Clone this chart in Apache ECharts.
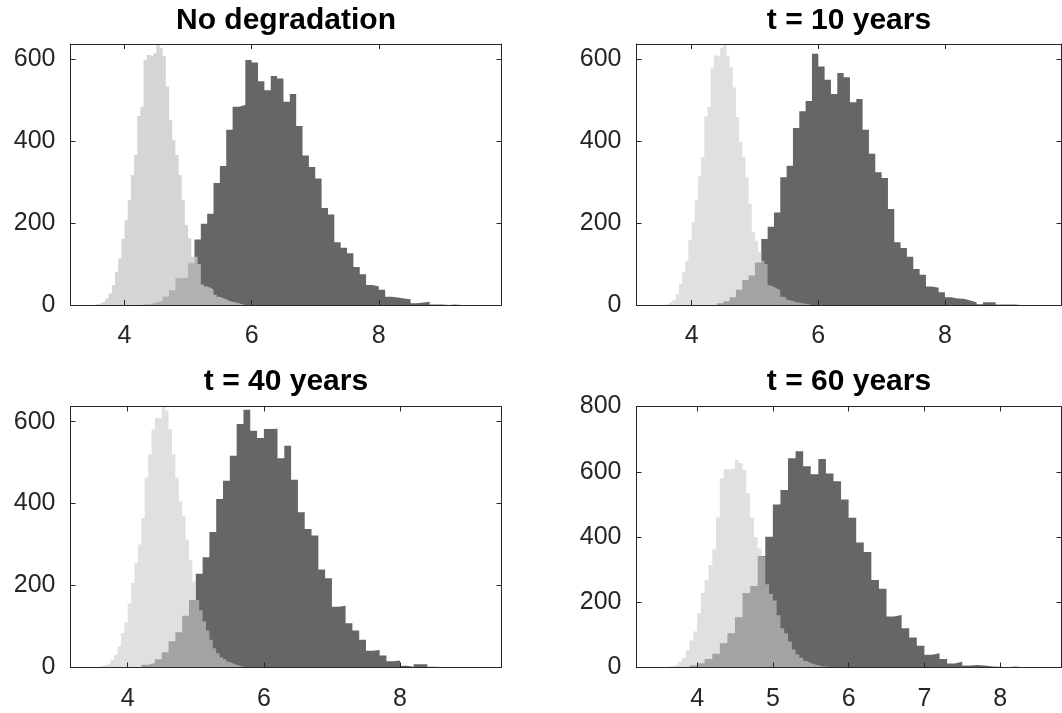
<!DOCTYPE html>
<html>
<head>
<meta charset="utf-8">
<title>Histograms</title>
<script src="https://cdn.jsdelivr.net/npm/echarts@6.0.0/dist/echarts.min.js"></script>
<style>
	html, body { margin: 0; padding: 0; background: #fff; }
	#container { width: 1062px; height: 713px; }
</style>
</head>
<body>
<div id="container"></div>
<script>
// panel titles
var titles = ['No degradation', 't = 10 years', 't = 40 years', 't = 60 years'];

// bin widths
var lightBin = 0.05,
	darkBin = 0.1;

// light (narrow) histogram, first bin edge + counts
var lightStart = [3.55, 3.6, 3.6, 3.6];
var light1 = [2, 6, 8, 16, 28, 49, 81, 114, 161, 207, 256, 317, 366, 461, 484, 598, 610, 607, 614, 637, 628, 607, 533, 451, 402, 366, 317, 256, 195, 163, 118, 118, 100, 50, 45, 42, 38, 25, 20, 17, 14, 10, 8, 6, 4, 2, 1];
var light2 = [2, 7, 12, 27, 51, 80, 108, 159, 202, 255, 314, 361, 460, 483, 579, 609, 605, 628, 637, 609, 580, 531, 459, 397, 361, 312, 247, 178, 157, 130, 108, 100, 48, 44, 40, 36, 20, 18, 12, 10, 7, 6, 4, 3, 2, 1];
var light3 = [4, 7, 11, 19, 31, 51, 84, 110, 156, 206, 255, 300, 365, 463, 520, 581, 609, 607, 637, 628, 582, 520, 463, 406, 369, 312, 263, 210, 165, 140, 112, 90, 68, 47, 35, 25, 20, 14, 10, 7, 4, 2, 1];
var light4 = [3, 5, 8, 18, 29, 52, 83, 110, 166, 228, 268, 314, 362, 460, 580, 608, 608, 610, 636, 626, 605, 534, 460, 399, 365, 340, 255, 225, 205, 160, 120, 105, 80, 55, 40, 30, 20, 14, 10, 7, 4, 3, 2, 1];

// dark (wide) histogram, first bin edge + counts
var darkStart = [4.3, 4.4, 4.2, 3.9];
var dark1 = [2, 6, 10, 20, 36, 65, 67, 102, 160, 198, 223, 298, 339, 428, 484, 488, 598, 592, 546, 524, 559, 553, 496, 515, 437, 365, 337, 309, 237, 221, 153, 140, 126, 93, 75, 49, 45, 37, 20, 18, 16, 14, 4, 6, 8, 1, 1, 0, 1, 0, 1];
var dark2 = [4, 9, 19, 37, 61, 72, 104, 161, 191, 226, 312, 340, 432, 473, 498, 613, 582, 550, 515, 566, 556, 495, 503, 428, 369, 324, 310, 234, 153, 139, 118, 88, 74, 45, 42, 31, 19, 16, 15, 11, 7, 2, 7, 7, 1, 1, 1, 0, 1];
var dark3 = [7, 11, 20, 37, 64, 86, 126, 165, 229, 269, 331, 411, 456, 517, 594, 629, 578, 560, 582, 583, 511, 541, 458, 379, 338, 322, 239, 218, 148, 151, 108, 90, 68, 41, 43, 29, 15, 17, 4, 2, 8, 8, 2, 1, 0, 0, 0, 2];
var dark4 = [6, 13, 26, 42, 74, 105, 154, 228, 250, 342, 401, 500, 544, 641, 663, 617, 592, 639, 595, 571, 515, 459, 383, 354, 268, 241, 156, 161, 120, 92, 67, 39, 44, 26, 12, 18, 6, 8, 6, 3, 2, 1, 3, 1];

var lightData = [light1, light2, light3, light4];
var darkData = [dark1, dark2, dark3, dark4];

// axis limits and ticks
var xRange = [[3.15, 9.93], [3.13, 9.84], [3.16, 9.49], [3.2, 8.81]];
var yMax = [637, 637, 637, 800];
var xTicks = [[4, 6, 8], [4, 6, 8], [4, 6, 8], [4, 5, 6, 7, 8]];
var yTicks = [[0, 200, 400, 600], [0, 200, 400, 600], [0, 200, 400, 600], [0, 200, 400, 600, 800]];

var axisColor = '#262626',
	fontFamily = '"Liberation Sans", Arial, Helvetica, sans-serif';

// light colour is see-through so the overlap turns mid grey
var lightColor = ['rgb(201,201,201)', 'rgb(203,203,203)', 'rgb(203,203,203)', 'rgb(203,203,203)'];
var lightAlpha = [0.77, 0.6, 0.6, 0.6];

var myChart = echarts.init(document.getElementById('container'));

// plot boxes
var grids = [
	{ left: 70.5, top: 44, width: 431, height: 261 },
	{ left: 636.5, top: 44, width: 425, height: 261 },
	{ left: 70.5, top: 406.5, width: 431, height: 261 },
	{ left: 636.5, top: 406.5, width: 425, height: 261 }
];

// step outline from bin edges
function steps(start, width, counts) {
	var pts = [];
	for (var i = 0; i < counts.length; i++) {
		pts.push([+(start + i * width).toFixed(3), counts[i]]);
	}
	pts.push([+(start + counts.length * width).toFixed(3), 0]);
	return pts;
}

function xAxis(i, pos) {
	return {
		type: 'value', gridIndex: i, position: pos, z: 10,
		min: xRange[i][0], max: xRange[i][1],
		axisLine: { show: true, onZero: false, lineStyle: { color: axisColor, width: 1 } },
		axisTick: { show: true, inside: true, length: 5, customValues: xTicks[i], lineStyle: { color: axisColor, width: 1 } },
		axisLabel: { show: pos === 'bottom', customValues: xTicks[i], margin: 19, fontSize: 25, color: axisColor, fontFamily: fontFamily },
		splitLine: { show: false }
	};
}

function yAxis(i, pos) {
	return {
		type: 'value', gridIndex: i, position: pos, z: 10,
		min: 0, max: yMax[i],
		axisLine: { show: true, onZero: false, lineStyle: { color: axisColor, width: 1 } },
		axisTick: { show: true, inside: true, length: 5, customValues: yTicks[i], lineStyle: { color: axisColor, width: 1 } },
		axisLabel: { show: pos === 'left', customValues: yTicks[i], margin: 15, fontSize: 25, color: axisColor, fontFamily: fontFamily },
		splitLine: { show: false }
	};
}

var xAxes = [], yAxes = [], series = [], texts = [];
for (var i = 0; i < 4; i++) {
	xAxes.push(xAxis(i, 'bottom'), xAxis(i, 'top'));
	yAxes.push(yAxis(i, 'left'), yAxis(i, 'right'));
	// dark one first, light one drawn on top
	series.push({
		type: 'line', step: 'end', xAxisIndex: 2 * i, yAxisIndex: 2 * i,
		symbol: 'none', silent: true,
		lineStyle: { width: 0, opacity: 0 },
		areaStyle: { color: '#666666', opacity: 1 },
		data: steps(darkStart[i], darkBin, darkData[i])
	});
	series.push({
		type: 'line', step: 'end', xAxisIndex: 2 * i, yAxisIndex: 2 * i,
		symbol: 'none', silent: true,
		lineStyle: { width: 0, opacity: 0 },
		areaStyle: { color: lightColor[i], opacity: lightAlpha[i] },
		data: steps(lightStart[i], lightBin, lightData[i])
	});
	var g = grids[i];
	texts.push({
		type: 'text',
		x: g.left + g.width / 2,
		y: i < 2 ? 20.5 : 382,
		style: {
			text: titles[i],
			font: 'bold 30px ' + fontFamily,
			fill: '#000',
			align: 'center',
			verticalAlign: 'middle'
		}
	});
}

var option = {
	animation: false,
	backgroundColor: '#fff',
	grid: grids,
	xAxis: xAxes,
	yAxis: yAxes,
	series: series,
	graphic: texts
};
myChart.setOption(option);
</script>
</body>
</html>
